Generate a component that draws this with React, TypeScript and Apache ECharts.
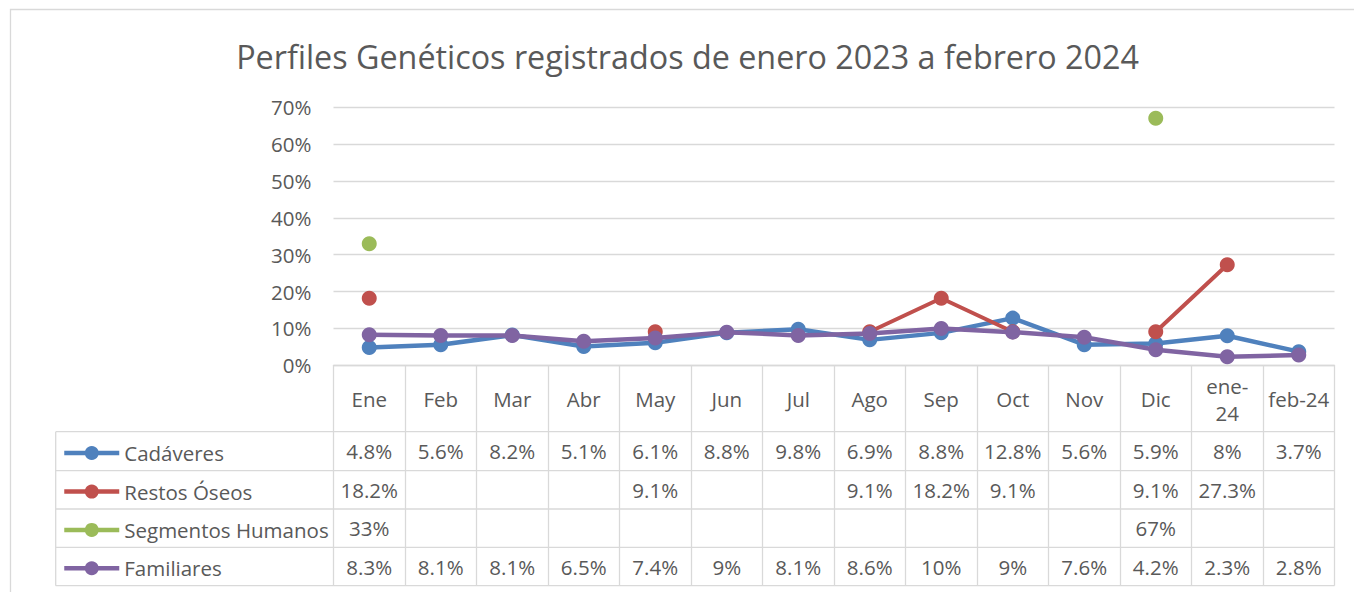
import React, { useEffect, useRef } from "react";
import * as echarts from "echarts";

const categories = ["Ene", "Feb", "Mar", "Abr", "May", "Jun", "Jul", "Ago", "Sep", "Oct", "Nov", "Dic", "ene-24", "feb-24"];
const headerLabels = ["Ene", "Feb", "Mar", "Abr", "May", "Jun", "Jul", "Ago", "Sep", "Oct", "Nov", "Dic", "ene-\n24", "feb-24"];
const yTicks = [0, 10, 20, 30, 40, 50, 60, 70];

const cadaveres = [4.8, 5.6, 8.2, 5.1, 6.1, 8.8, 9.8, 6.9, 8.8, 12.8, 5.6, 5.9, 8, 3.7];
const restosOseos = [18.2, null, null, null, 9.1, null, null, 9.1, 18.2, 9.1, null, 9.1, 27.3, null];
const segmentosHumanos = [33, null, null, null, null, null, null, null, null, null, null, 67, null, null];
const familiares = [8.3, 8.1, 8.1, 6.5, 7.4, 9, 8.1, 8.6, 10, 9, 7.6, 4.2, 2.3, 2.8];

const seriesNames = ["Cadáveres", "Restos Óseos", "Segmentos Humanos", "Familiares"];
const seriesData = [cadaveres, restosOseos, segmentosHumanos, familiares];
const seriesColors = ["#4F81BD", "#C0504D", "#9BBB59", "#8064A2"];

const TEXT = "#595959";
const GRID = "#D9D9D9";
const FONT = "'Open Sans', 'Noto Sans', sans-serif";
const FS = 20.5;

const fmt = (v: number | null) => (v == null ? "" : `${parseFloat(v.toFixed(1))}%`);

export default function App() {
  const ref = useRef<HTMLDivElement>(null);
  useEffect(() => {
    if (!ref.current) return;
    const chart = echarts.init(ref.current, null, { renderer: "svg" });

    const gridLeft = 333.5;
    const gridRight = 1334.5;
    const gridTop = 107.3;
    const axisY = 365.3;
    const rowLines = [431.7, 470.7, 509, 547.3, 585.7];
    const tableLeft = 55.7;
    const rowCenters = rowLines.slice(0, 4).map((y, i) => (y + rowLines[i + 1]) / 2);
    const iconH = 17.5;

    const rowAxes = seriesData.map((d, r) => ({
      type: "category",
      gridIndex: 0,
      position: "bottom",
      data: categories,
      axisLine: { show: false },
      axisTick: { show: false },
      splitLine: { show: false },
      axisLabel: {
        interval: 0,
        margin: rowCenters[r] - axisY,
        verticalAlign: "middle",
        fontSize: FS,
        fontFamily: FONT,
        color: TEXT,
        formatter: (_v: string, i: number) => fmt(d[i] as number | null),
      },
    }));

    const legends = seriesNames.map((name, r) => ({
      orient: "vertical",
      left: 62,
      top: rowCenters[r] - iconH / 2,
      padding: 0,
      itemWidth: 55,
      itemHeight: iconH,
      data: [name],
      lineStyle: { width: 4.5 },
      textStyle: { fontSize: FS, fontFamily: FONT, color: TEXT, lineHeight: iconH, padding: [0, 0, 3, 0] },
      selectedMode: false,
    }));

    const graphics: any[] = [
      {
        type: "rect",
        shape: { x: 10.5, y: 9.5, width: 1400, height: 640 },
        style: { fill: "none", stroke: GRID, lineWidth: 1.3 },
        silent: true,
      },
      {
        type: "text",
        x: 687.5,
        y: 56,
        style: {
          text: "Perfiles Genéticos registrados de enero 2023 a febrero 2024",
          fontSize: 32.3,
          fontFamily: FONT,
          fill: TEXT,
          align: "center",
          verticalAlign: "middle",
        },
      },
      ...rowLines.map((y) => ({
        type: "line",
        shape: { x1: tableLeft, y1: y, x2: gridRight, y2: y },
        style: { stroke: GRID, lineWidth: 1.3 },
        silent: true,
      })),
      {
        type: "line",
        shape: { x1: tableLeft, y1: rowLines[0], x2: tableLeft, y2: rowLines[4] },
        style: { stroke: GRID, lineWidth: 1.3 },
        silent: true,
      },
    ];

    chart.setOption({
      animation: false,
      grid: {
        left: gridLeft,
        top: gridTop,
        width: gridRight - gridLeft,
        height: axisY - gridTop,
        containLabel: false,
      },
      legend: legends,
      xAxis: [
        {
          type: "category",
          gridIndex: 0,
          position: "bottom",
          data: categories,
          boundaryGap: true,
          axisLine: { show: true, lineStyle: { color: GRID, width: 1.3 } },
          axisTick: {
            show: true,
            interval: 0,
            alignWithLabel: false,
            length: rowLines[4] - axisY,
            lineStyle: { color: GRID, width: 1.3 },
          },
          splitLine: { show: false },
          axisLabel: {
            interval: 0,
            margin: 399 - axisY,
            verticalAlign: "middle",
            fontSize: FS,
            lineHeight: 27,
            fontFamily: FONT,
            color: TEXT,
            formatter: (_v: string, i: number) => headerLabels[i],
          },
        },
        ...rowAxes,
      ],
      yAxis: {
        type: "value",
        min: yTicks[0],
        max: yTicks[yTicks.length - 1],
        interval: 10,
        axisLine: { show: false },
        axisTick: { show: false },
        splitLine: { lineStyle: { color: GRID, width: 1.3 } },
        axisLabel: {
          margin: 22,
          fontSize: FS,
          fontFamily: FONT,
          color: TEXT,
          formatter: (v: number) => `${v}%`,
        },
      },
      series: seriesNames.map((name, k) => ({
        name,
        type: "line",
        xAxisIndex: 0,
        data: seriesData[k],
        connectNulls: false,
        symbol: "circle",
        symbolSize: 15,
        showSymbol: true,
        color: seriesColors[k],
        itemStyle: { color: seriesColors[k] },
        lineStyle: { color: seriesColors[k], width: k === 1 ? 4 : 4.5 },
        z: 2 + k,
      })),
      graphic: graphics,
    });
    return () => chart.dispose();
  }, []);

  return (
    <div
      ref={ref}
      style={{ position: "absolute", left: 0, top: 0, width: 1354, height: 592, background: "#fff" }}
    />
  );
}
